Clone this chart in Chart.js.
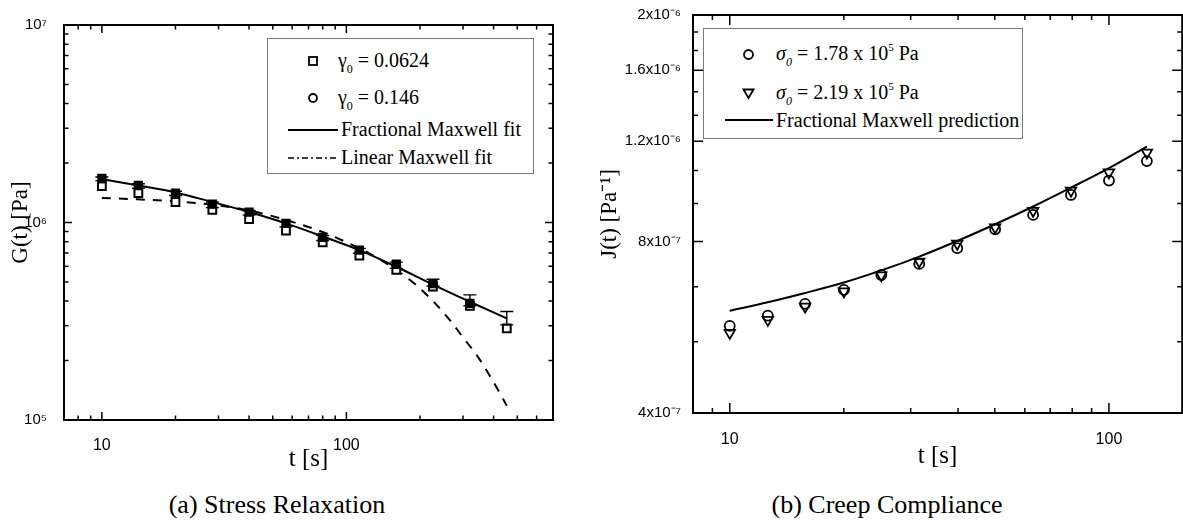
<!DOCTYPE html>
<html>
<head>
<meta charset="utf-8">
<script src="https://cdn.jsdelivr.net/npm/chart.js@4.4.1/dist/chart.umd.min.js"></script>
<style>
  html, body { margin: 0; padding: 0; background: #fff; }
  body { width: 1183px; height: 522px; position: relative; overflow: hidden; font-family: "Liberation Serif", serif; color: #000; }
  canvas { position: absolute; top: 0; }
  .legend { position: absolute; box-sizing: border-box; border: 1px solid #7a7a7a; background: #fff; }
  .legend svg { position: absolute; }
  .txt { position: absolute; white-space: nowrap; font-size: 20px; line-height: 24px; }
  .txt sub { font-size: 12px; line-height: 0; vertical-align: -6px; }
  .txt sup { font-size: 11px; line-height: 0; vertical-align: 9px; }
  .cap { position: absolute; text-align: center; font-size: 26px; line-height: 30px; white-space: nowrap; }
</style>
</head>
<body>
<canvas id="chartG" width="590" height="480" style="left:0"></canvas>
<canvas id="chartJ" width="600" height="480" style="left:590px"></canvas>

<div class="legend" style="left:267px;top:38px;width:267px;height:136px">
  <svg style="left:39px;top:16px" width="12" height="12"><rect x="2" y="2" width="8" height="8" fill="none" stroke="#000" stroke-width="1.8"/></svg>
  <div class="txt" style="left:70px;top:9px">γ<sub>0</sub> = 0.0624</div>
  <svg style="left:39px;top:53px" width="12" height="12"><circle cx="6" cy="6" r="4" fill="none" stroke="#000" stroke-width="1.8"/></svg>
  <div class="txt" style="left:70px;top:46px">γ<sub>0</sub> = 0.146</div>
  <svg style="left:20px;top:86px" width="52" height="10"><line x1="0" y1="5" x2="50" y2="5" stroke="#000" stroke-width="2"/></svg>
  <div class="txt" style="left:73px;top:78px">Fractional Maxwell fit</div>
  <svg style="left:20px;top:114px" width="52" height="10"><line x1="0" y1="5" x2="50" y2="5" stroke="#000" stroke-width="1.6" stroke-dasharray="6,3,2,3"/></svg>
  <div class="txt" style="left:73px;top:106px">Linear Maxwell fit</div>
</div>

<div class="legend" style="left:703px;top:28px;width:320px;height:111px">
  <svg style="left:38px;top:19px" width="13" height="13"><circle cx="6.5" cy="6.5" r="4.5" fill="none" stroke="#000" stroke-width="1.8"/></svg>
  <div class="txt" style="left:72px;top:12px"><i>σ</i><sub><i>0</i></sub> = 1.78 x 10<sup>5</sup> Pa</div>
  <svg style="left:38px;top:58px" width="13" height="13"><polygon points="1.5,2.5 11.5,2.5 6.5,11" fill="none" stroke="#000" stroke-width="1.8"/></svg>
  <div class="txt" style="left:72px;top:51px"><i>σ</i><sub><i>0</i></sub> = 2.19 x 10<sup>5</sup> Pa</div>
  <svg style="left:21px;top:86px" width="50" height="10"><line x1="0" y1="5" x2="48" y2="5" stroke="#000" stroke-width="2"/></svg>
  <div class="txt" style="left:72px;top:79px">Fractional Maxwell prediction</div>
</div>

<div class="cap" style="left:0;width:554px;top:490px">(a) Stress Relaxation</div>
<div class="cap" style="left:590px;width:594px;top:490px">(b) Creep Compliance</div>

<script>
// ---- (a) stress relaxation ----
var gT = [10, 14.1, 20, 28.3, 40, 56.6, 80, 113, 160, 226, 320, 453];
var gOpen = [1.53e6, 1.41e6, 1.27e6, 1.16e6, 1.04e6, 9.1e5, 7.94e5, 6.79e5, 5.75e5, 4.73e5, 3.78e5, 2.91e5];   // gamma0 = 0.0624
var gFilled = [1.67e6, 1.54e6, 1.41e6, 1.24e6, 1.13e6, 9.9e5, 8.4e5, 7.25e5, 6.15e5, 4.9e5, 3.9e5, null];     // gamma0 = 0.146
var gErrHi = [1.70e6, 1.57e6, 1.44e6, 1.27e6, 1.15e6, 1.01e6, 8.6e5, 7.4e5, 6.3e5, 5.16e5, 4.3e5, 3.54e5];
var gErrLo = [1.63e6, 1.49e6, 1.37e6, 1.19e6, 1.09e6, 9.5e5, 8.1e5, 6.98e5, 5.86e5, 4.77e5, 3.79e5, 3.03e5];
var gFracFit = [1.66e6, 1.54e6, 1.42e6, 1.27e6, 1.13e6, 9.9e5, 8.5e5, 7.25e5, 5.97e5, 4.85e5, 3.97e5, 3.27e5];
var gLinT = [10, 14.1, 20, 28.3, 40, 56.6, 80, 100, 121, 143, 160, 192, 226, 264, 300, 344, 378, 421, 453];
var gLinFit = [1.33e6, 1.31e6, 1.28e6, 1.23e6, 1.15e6, 1.03e6, 8.95e5, 7.95e5, 7.1e5, 6.3e5, 5.75e5, 4.85e5, 4.0e5, 3.22e5, 2.62e5, 2.1e5, 1.75e5, 1.39e5, 1.18e5];

var gTickX = [7, 8, 9, 10, 20, 30, 40, 50, 60, 70, 80, 90, 100, 200, 300, 400, 500, 600, 700];
var gTickXMajor = [10, 100];
var gTickXLabels = ['10', '100'];
var gTickY = [1e5, 2e5, 3e5, 4e5, 5e5, 6e5, 7e5, 8e5, 9e5, 1e6, 2e6, 3e6, 4e6, 5e6, 6e6, 7e6, 8e6, 9e6, 1e7];
var gTickYMajor = [1e5, 1e6, 1e7];
var gTickYLabels = ['10⁵', '10⁶', '10⁷'];

// ---- (b) creep compliance ----
var jT = [10, 12.6, 15.8, 20, 25.1, 31.6, 39.8, 50.1, 63.1, 79.4, 100, 125.9];
var jSigma178 = [5.69e-7, 5.93e-7, 6.22e-7, 6.58e-7, 6.99e-7, 7.31e-7, 7.79e-7, 8.41e-7, 8.91e-7, 9.66e-7, 1.024e-6, 1.108e-6];
var jSigma219 = [5.53e-7, 5.83e-7, 6.15e-7, 6.54e-7, 6.98e-7, 7.38e-7, 7.93e-7, 8.47e-7, 9.06e-7, 9.83e-7, 1.058e-6, 1.146e-6];
var jFracPred = [6.05e-7, 6.26e-7, 6.5e-7, 6.78e-7, 7.12e-7, 7.53e-7, 8.02e-7, 8.58e-7, 9.22e-7, 9.95e-7, 1.077e-6, 1.175e-6];

var jTickX = [8, 9, 10, 20, 30, 40, 50, 60, 70, 80, 90, 100];
var jTickXMajor = [10, 100];
var jTickXLabels = ['10', '100'];
var jTickY = [4e-7, 5.333e-7, 6.667e-7, 8e-7, 9.333e-7, 1.0667e-6, 1.2e-6, 1.3333e-6, 1.4667e-6, 1.6e-6, 1.7333e-6, 1.8667e-6, 2e-6];
var jTickYMajor = [4e-7, 8e-7, 1.2e-6, 1.6e-6, 2e-6];
var jTickYLabels = ['4x10⁻⁷', '8x10⁻⁷', '1.2x10⁻⁶', '1.6x10⁻⁶', '2x10⁻⁶'];

function pts(xs, ys) {
  var out = [];
  for (var i = 0; i < xs.length; i++) {
    if (ys[i] != null) out.push({ x: xs[i], y: ys[i] });
  }
  return out;
}

function isMajor(v, majors) {
  return majors.some(function (m) { return Math.abs(v - m) <= m * 1e-6; });
}

function tickLabel(v, majors, labels) {
  for (var i = 0; i < majors.length; i++) {
    if (Math.abs(v - majors[i]) <= majors[i] * 1e-6) return labels[i];
  }
  return '';
}

function setTicks(list, majors) {
  return function (scale) {
    scale.ticks = list.map(function (v) { return { value: v, major: isMajor(v, majors) }; });
  };
}

// frame box plus inward ticks on all four sides
var frameTicks = {
  id: 'frameTicks',
  afterDatasetsDraw: function (chart, args, o) {
    var ctx = chart.ctx, a = chart.chartArea, x = chart.scales.x, y = chart.scales.y;
    ctx.save();
    ctx.strokeStyle = '#000';
    ctx.lineWidth = o.tickWidth;
    ctx.beginPath();
    x.ticks.forEach(function (t) {
      var p = x.getPixelForValue(t.value), len = t.major ? o.major : o.minor;
      ctx.moveTo(p, a.bottom); ctx.lineTo(p, a.bottom - len);
      ctx.moveTo(p, a.top); ctx.lineTo(p, a.top + len);
    });
    y.ticks.forEach(function (t) {
      var p = y.getPixelForValue(t.value), len = t.major ? o.major : o.minor;
      ctx.moveTo(a.left, p); ctx.lineTo(a.left + len, p);
      ctx.moveTo(a.right, p); ctx.lineTo(a.right - len, p);
    });
    ctx.stroke();
    ctx.lineWidth = o.frame;
    ctx.strokeRect(a.left, a.top, a.right - a.left, a.bottom - a.top);
    ctx.restore();
  }
};

var errorBars = {
  id: 'errorBars',
  afterDatasetsDraw: function (chart, args, o) {
    var ctx = chart.ctx, x = chart.scales.x, y = chart.scales.y;
    ctx.save();
    ctx.strokeStyle = '#000';
    ctx.lineWidth = 1.4;
    ctx.beginPath();
    for (var i = 0; i < o.t.length; i++) {
      var px = x.getPixelForValue(o.t[i]);
      var yh = y.getPixelForValue(o.hi[i]), yl = y.getPixelForValue(o.lo[i]);
      ctx.moveTo(px, yh); ctx.lineTo(px, yl);
      ctx.moveTo(px - o.cap, yh); ctx.lineTo(px + o.cap, yh);
      ctx.moveTo(px - o.cap, yl); ctx.lineTo(px + o.cap, yl);
    }
    ctx.stroke();
    ctx.restore();
  }
};

var sans = 'Liberation Sans';
var serif = 'Liberation Serif';

new Chart(document.getElementById('chartG'), {
  type: 'scatter',
  data: {
    datasets: [
      { label: 'γ0 = 0.146', data: pts(gT, gFilled), pointStyle: 'rect', pointRadius: 5.5,
        backgroundColor: '#000', borderColor: '#000', borderWidth: 1.5, order: 0 },
      { label: 'γ0 = 0.0624', data: pts(gT, gOpen), pointStyle: 'rect', pointRadius: 5.5,
        backgroundColor: '#fff', borderColor: '#000', borderWidth: 2, order: 1 },
      { label: 'Fractional Maxwell fit', data: pts(gT, gFracFit), showLine: true, pointRadius: 0,
        borderColor: '#000', borderWidth: 2, cubicInterpolationMode: 'monotone', order: 2 },
      { label: 'Linear Maxwell fit', data: pts(gLinT, gLinFit), showLine: true, pointRadius: 0,
        borderColor: '#000', borderWidth: 2, borderDash: [9, 8], cubicInterpolationMode: 'monotone', order: 3 }
    ]
  },
  options: {
    responsive: false,
    animation: false,
    layout: { padding: { left: 0, right: 37, top: 25, bottom: 0 } },
    plugins: {
      legend: { display: false },
      tooltip: { enabled: false },
      frameTicks: { frame: 2, tickWidth: 1.5, major: 8, minor: 4.5 },
      errorBars: { t: gT, hi: gErrHi, lo: gErrLo, cap: 6.5 }
    },
    scales: {
      x: {
        type: 'logarithmic', min: 7, max: 700,
        afterBuildTicks: setTicks(gTickX, gTickXMajor),
        afterFit: function (s) { s.height = 60; },
        grid: { display: false }, border: { display: false },
        ticks: { autoSkip: false, maxRotation: 0, padding: 8, color: '#000', font: { family: sans, size: 16 },
          callback: function (v) { return tickLabel(v, gTickXMajor, gTickXLabels); } },
        title: { display: true, text: 't [s]', color: '#000', font: { family: serif, size: 25 }, padding: { top: 0, bottom: 6 } }
      },
      y: {
        type: 'logarithmic', min: 1e5, max: 1e7,
        afterBuildTicks: setTicks(gTickY, gTickYMajor),
        afterFit: function (s) { s.width = 64; },
        grid: { display: false }, border: { display: false },
        ticks: { autoSkip: false, padding: 9, color: '#000', font: { family: sans, size: 15 },
          callback: function (v) { return tickLabel(v, gTickYMajor, gTickYLabels); } },
        title: { display: true, text: 'G(t) [Pa]', color: '#000', font: { family: serif, size: 23 }, padding: { top: 7, bottom: 0 } }
      }
    }
  },
  plugins: [frameTicks, errorBars]
});

new Chart(document.getElementById('chartJ'), {
  type: 'scatter',
  data: {
    datasets: [
      { label: 'σ0 = 1.78 x 10⁵ Pa', data: pts(jT, jSigma178), pointStyle: 'circle', pointRadius: 5,
        backgroundColor: 'rgba(0,0,0,0)', borderColor: '#000', borderWidth: 1.8, order: 0 },
      { label: 'σ0 = 2.19 x 10⁵ Pa', data: pts(jT, jSigma219), pointStyle: 'triangle', rotation: 180, pointRadius: 6,
        backgroundColor: 'rgba(0,0,0,0)', borderColor: '#000', borderWidth: 1.8, order: 1 },
      { label: 'Fractional Maxwell prediction', data: pts(jT, jFracPred), showLine: true, pointRadius: 0,
        borderColor: '#000', borderWidth: 2, cubicInterpolationMode: 'monotone', order: 2 }
    ]
  },
  options: {
    responsive: false,
    animation: false,
    layout: { padding: { left: 0, right: 2, top: 15, bottom: 0 } },
    plugins: {
      legend: { display: false },
      tooltip: { enabled: false },
      frameTicks: { frame: 2, tickWidth: 1.5, major: 10, minor: 5 }
    },
    scales: {
      x: {
        type: 'logarithmic', min: 8, max: 156,
        afterBuildTicks: setTicks(jTickX, jTickXMajor),
        afterFit: function (s) { s.height = 67; },
        grid: { display: false }, border: { display: false },
        ticks: { autoSkip: false, maxRotation: 0, padding: 9, color: '#000', font: { family: sans, size: 16 },
          callback: function (v) { return tickLabel(v, jTickXMajor, jTickXLabels); } },
        title: { display: true, text: 't [s]', color: '#000', font: { family: serif, size: 25 }, padding: { top: 0, bottom: 9 } }
      },
      y: {
        type: 'logarithmic', min: 4e-7, max: 2e-6,
        afterBuildTicks: setTicks(jTickY, jTickYMajor),
        afterFit: function (s) { s.width = 103; },
        grid: { display: false }, border: { display: false },
        ticks: { autoSkip: false, padding: 4, color: '#000', font: { family: sans, size: 15 },
          callback: function (v) { return tickLabel(v, jTickYMajor, jTickYLabels); } },
        title: { display: true, text: 'J(t) [Pa⁻¹]', color: '#000', font: { family: serif, size: 23 }, padding: { top: 6, bottom: 0 } }
      }
    }
  },
  plugins: [frameTicks]
});
</script>
</body>
</html>
